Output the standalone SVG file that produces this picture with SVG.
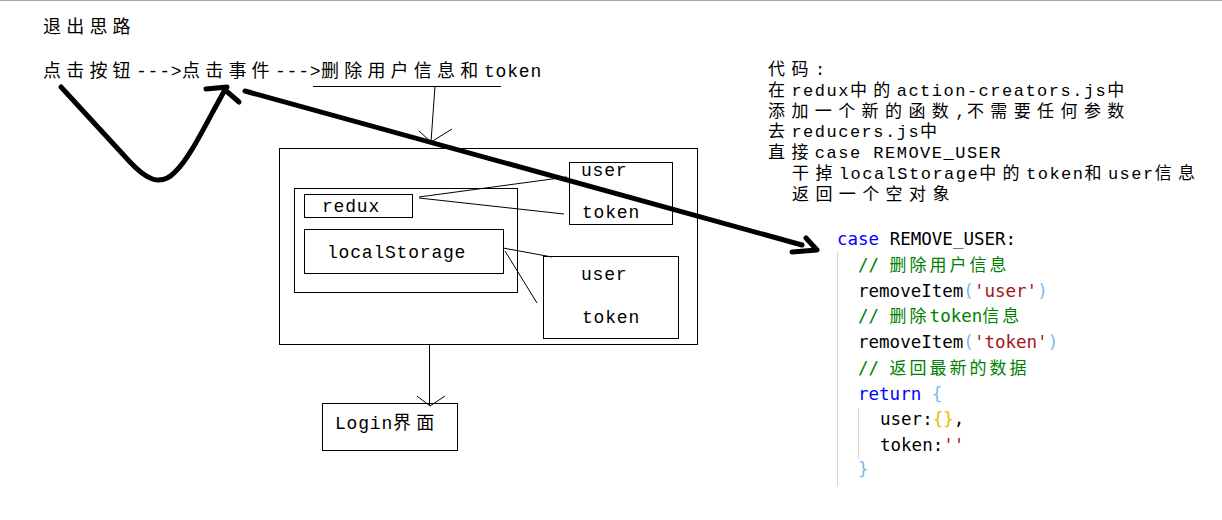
<svg xmlns="http://www.w3.org/2000/svg" width="1222" height="520" viewBox="0 0 1222 520">
<style>
.t{font-family:"Liberation Mono","Noto Sans CJK SC",monospace;font-size:18px;fill:#000;letter-spacing:0.8px}
.c{font-family:"Noto Sans CJK SC",sans-serif;letter-spacing:5.2px}
.n{font-family:"Liberation Mono","Noto Sans CJK SC",monospace;font-size:17px;fill:#000;letter-spacing:1.5px}
.nc{font-family:"Noto Sans CJK SC",sans-serif;letter-spacing:6.4px}
.box{fill:none;stroke:#000;stroke-width:1}
.thin{fill:none;stroke:#000;stroke-width:1}
.thick{fill:none;stroke:#000;stroke-width:5;stroke-linecap:round;stroke-linejoin:round}
.code{font-family:"DejaVu Sans Mono",monospace;font-size:17.5px;fill:#000}
.cj{font-family:"Noto Sans CJK SC",sans-serif;font-size:17px;letter-spacing:3px}
.cm{fill:#008000}
.kw{fill:#0000ff}
.str{fill:#a31515}
.pb{fill:#7ab8ee}
.gd{fill:#f2b800}
.guide{stroke:#d4d4d4;stroke-width:1}
</style>
<rect width="1222" height="520" fill="#fff"/>
<line x1="0" y1="0.5" x2="1222" y2="0.5" stroke="#a6a6a6" stroke-width="1"/>

<g id="title"><text class="t" x="43" y="33"><tspan class="c">退出思路</tspan></text></g>

<g id="flow">
<text class="t" y="77"><tspan class="c" x="43">点击按钮</tspan><tspan x="136">---&gt;</tspan><tspan class="c" x="182">点击事件</tspan><tspan x="275">---&gt;</tspan><tspan class="c" x="321">删除用户信息和</tspan><tspan x="484">token</tspan></text>
</g>

<g id="outer-box"><rect class="box" x="279.5" y="148.5" width="418" height="196"/></g>
<g id="store-box"><rect class="box" x="294.5" y="188.5" width="223" height="104"/></g>
<g id="redux"><rect class="box" x="304.5" y="194.5" width="108" height="23"/><text class="t" x="322" y="212">redux</text></g>
<g id="localStorage"><rect class="box" x="304.5" y="229.5" width="199" height="44"/><text class="t" x="327" y="258">localStorage</text></g>
<g id="redux-data"><rect class="box" x="569.5" y="162.5" width="103" height="62"/><text class="t" x="581" y="176">user</text><text class="t" x="582" y="218">token</text></g>
<g id="storage-data"><rect class="box" x="543.5" y="256.5" width="135" height="82"/><text class="t" x="581" y="280">user</text><text class="t" x="582" y="323">token</text></g>
<g id="login"><rect class="box" x="322.5" y="403.5" width="135" height="47"/><text class="t" x="335" y="429">Login<tspan class="c" x="393">界面</tspan></text></g>

<g id="notes">
<text class="n" y="75"><tspan class="nc" x="768">代码</tspan><tspan x="815">:</tspan></text>
<text class="n" y="96"><tspan class="nc" x="768">在</tspan><tspan x="791.4">redux</tspan><tspan class="nc" x="849.9">中的</tspan><tspan x="896.7">action-creators.js</tspan><tspan class="nc" x="1107.3">中</tspan></text>
<text class="n" y="117"><tspan class="nc" x="768">添加一个新的函数</tspan><tspan x="955.2">,</tspan><tspan class="nc" x="966.9">不需要任何参数</tspan></text>
<text class="n" y="137"><tspan class="nc" x="768">去</tspan><tspan x="791.4">reducers.js</tspan><tspan class="nc" x="920.1">中</tspan></text>
<text class="n" y="158"><tspan class="nc" x="768">直接</tspan><tspan x="814.8">case REMOVE_USER</tspan></text>
<text class="n" y="179"><tspan class="nc" x="792">干掉</tspan><tspan x="838.8">localStorage</tspan><tspan class="nc" x="979.2">中的</tspan><tspan x="1026">token</tspan><tspan class="nc" x="1084.5">和</tspan><tspan x="1107.9">user</tspan><tspan class="nc" x="1154.7">信息</tspan></text>
<text class="n" y="200"><tspan class="nc" x="792">返回一个空对象</tspan></text>
</g>

<g id="code">
<line class="guide" x1="837.5" y1="252" x2="837.5" y2="486"/>
<line class="guide" x1="858.5" y1="408" x2="858.5" y2="459"/>
<text class="code" x="837" y="245"><tspan class="kw">case</tspan> REMOVE_USER:</text>
<text class="code cm" x="858" y="271">// <tspan class="cj">删除用户信息</tspan></text>
<text class="code" x="858" y="297">removeItem<tspan class="pb">(</tspan><tspan class="str">'user'</tspan><tspan class="pb">)</tspan></text>
<text class="code cm" x="858" y="322">// <tspan class="cj">删除</tspan>token<tspan class="cj">信息</tspan></text>
<text class="code" x="858" y="348">removeItem<tspan class="pb">(</tspan><tspan class="str">'token'</tspan><tspan class="pb">)</tspan></text>
<text class="code cm" x="858" y="374">// <tspan class="cj">返回最新的数据</tspan></text>
<text class="code" x="858" y="400"><tspan class="kw">return</tspan> <tspan class="pb">{</tspan></text>
<text class="code" x="880" y="425">user:<tspan class="gd">{}</tspan>,</text>
<text class="code" x="880" y="451">token:<tspan class="str">''</tspan></text>
<text class="code pb" x="858" y="475">}</text>
</g>

<g id="connectors">
<path class="thin" d="M313,86.5 H501"/>
<path class="thin" d="M435,86 L431,142 M419,131 L431,142 L452,129"/>
<path class="thin" d="M419,197 L567,177 M419,198 L564,214"/>
<path class="thin" d="M503,248 L552,257 M505,251 L537,303"/>
<path class="thin" d="M429.5,345 V405 M417,396 L430,406 L445,396"/>
<path class="thick" d="M61,87 C80,108 110,140 130,162 C145,178 160,188 175,172 C190,158 205,125 226,88"/>
<path class="thick" d="M206,89 L227,87 M224,89 L239,102"/>
<path class="thick" d="M245,91 L802,245 M806,238 L817,250 L792,252"/>
</g>
</svg>
